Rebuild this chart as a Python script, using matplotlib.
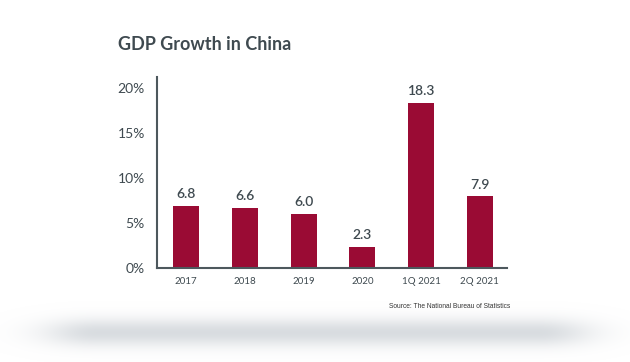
import numpy as np
import matplotlib.pyplot as plt

# data
categories = ["2017", "2018", "2019", "2020", "1Q 2021", "2Q 2021"]
growth = [6.8, 6.6, 6.0, 2.3, 18.3, 7.9]
yticks = [0, 5, 10, 15, 20]

bar_color = "#9a0b34"
text_color = "#3f4a50"

fig = plt.figure(figsize=(6.3, 3.62), dpi=100)
fig.patch.set_facecolor("white")

# soft shadow under the card
bg = fig.add_axes([0, 0, 1, 1], zorder=0)
bg.set_xlim(0, 630)
bg.set_ylim(362, 0)
bg.axis("off")
xx, yy = np.meshgrid(np.linspace(0, 630, 630), np.linspace(0, 362, 362))
fx = np.clip((np.abs(xx - 318) - 220) / 55, 0, None)
fy = np.abs(yy - 333) / 14
shade = np.exp(-(fx ** 2 + fy ** 2))
rgba = np.zeros((362, 630, 4))
rgba[..., :3] = np.array([0.80, 0.82, 0.84])
rgba[..., 3] = shade * 0.75
bg.imshow(rgba, extent=[0, 630, 362, 0], aspect="auto")

ax = fig.add_axes([0.2497, 0.261, 0.5546, 0.527], zorder=1)
ax.patch.set_alpha(0)
x = np.arange(len(categories))
ax.bar(x, growth, width=0.443, color=bar_color)

for xi, v in zip(x, growth):
    ax.text(xi, v + 0.65, f"{v:.1f}", ha="center", va="bottom",
            fontsize=10, color=text_color, family="Lato", fontweight="semibold")

ax.set_xlim(-0.494, 5.46)
ax.set_ylim(0, 21.2)
ax.set_yticks(yticks)
ax.set_yticklabels([f"{t}%" for t in yticks], fontsize=10, color=text_color, family="Lato")
ax.set_xticks(x)
ax.set_xticklabels(categories, fontsize=7, color=text_color, family="Lato")
ax.tick_params(axis="both", length=0)
ax.tick_params(axis="y", pad=9)
ax.tick_params(axis="x", pad=7)
for s in ["top", "right"]:
    ax.spines[s].set_visible(False)
for s in ["left", "bottom"]:
    ax.spines[s].set_color("#4d585d")
    ax.spines[s].set_linewidth(1.5)

fig.text(118 / 630, 1 - 45 / 362, "GDP Growth in China", fontsize=13,
         fontweight="bold", color=text_color, family="Lato", va="center")
fig.text(510 / 630, 1 - 307 / 362, "Source: The National Bureau of Statistics",
         fontsize=4.8, color="#333333", family="Liberation Sans", ha="right", va="center")

fig.savefig("out.png", dpi=100, facecolor="white")
